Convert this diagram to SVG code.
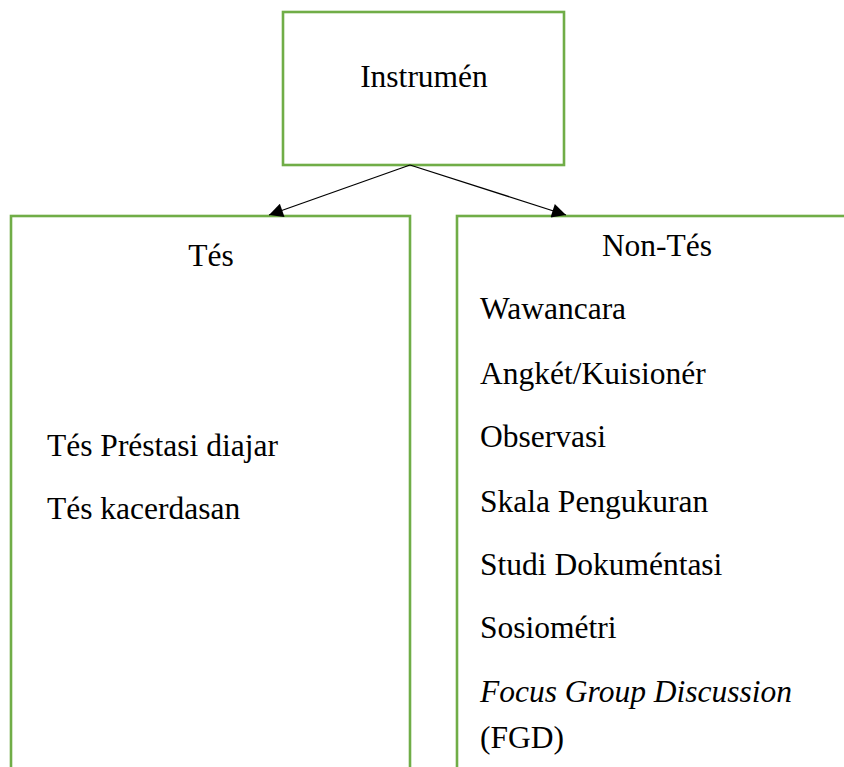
<svg xmlns="http://www.w3.org/2000/svg" width="844" height="767" viewBox="0 0 844 767">
<style>
.box{fill:#ffffff;stroke:#70AD47;stroke-width:2.6}
.t{font-family:"Liberation Serif","Times New Roman",serif;font-size:31.5px;fill:#000000}
.c{text-anchor:middle}
.conn{stroke:#000000;stroke-width:1.3;fill:none}
</style>
<defs>
<marker id="ah" viewBox="0 0 10 10" refX="10" refY="5" markerWidth="17" markerHeight="14" markerUnits="userSpaceOnUse" orient="auto">
<path d="M0,0 L10,5 L0,10 Z" fill="#000000"/>
</marker>
</defs>
<rect width="844" height="767" fill="#ffffff"/>
<g id="instrumen">
<rect class="box" x="283" y="12" width="281" height="153"/>
<text class="t c" x="424" y="87">Instrumén</text>
</g>
<g id="tes">
<rect class="box" x="11" y="216" width="399" height="600"/>
<text class="t c" x="211" y="266">Tés</text>
<text class="t" x="47" y="456">Tés Préstasi diajar</text>
<text class="t" x="47" y="519">Tés kacerdasan</text>
</g>
<g id="non-tes">
<rect class="box" x="457" y="216" width="420" height="600"/>
<text class="t c" x="657" y="256">Non-Tés</text>
<text class="t" x="480" y="319">Wawancara</text>
<text class="t" x="480" y="384">Angkét/Kuisionér</text>
<text class="t" x="480" y="447">Observasi</text>
<text class="t" x="480" y="512">Skala Pengukuran</text>
<text class="t" x="480" y="575">Studi Dokuméntasi</text>
<text class="t" x="480" y="638">Sosiométri</text>
<text class="t" x="480" y="702" font-style="italic">Focus Group Discussion</text>
<text class="t" x="480" y="748">(FGD)</text>
</g>
<g id="connectors">
<line class="conn" x1="410" y1="165" x2="269" y2="215" marker-end="url(#ah)"/>
<line class="conn" x1="410" y1="165" x2="566" y2="215" marker-end="url(#ah)"/>
</g>
</svg>
